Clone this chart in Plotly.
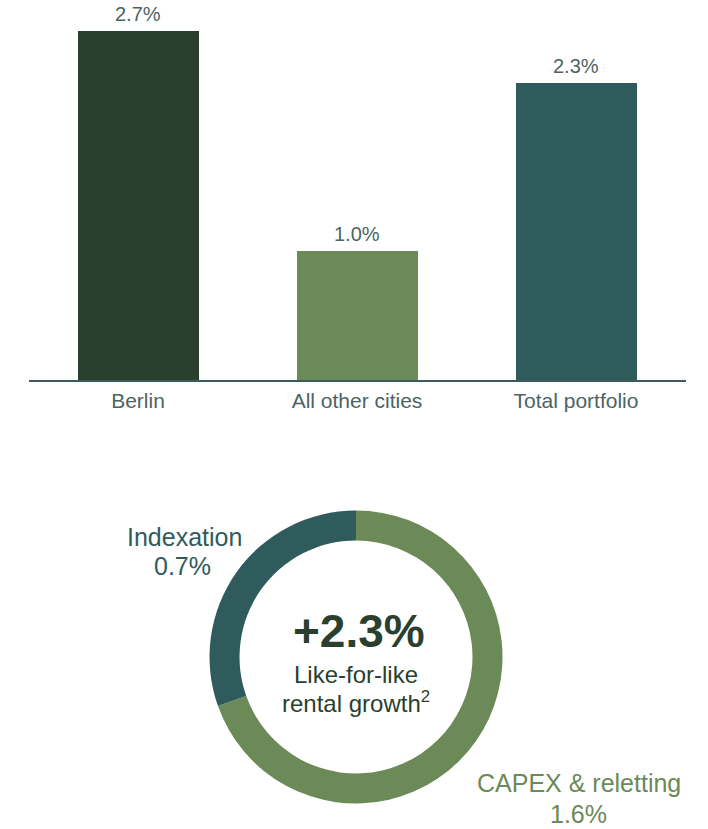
import plotly.graph_objects as go

# Bar chart: like-for-like rental growth by region
regions = ["Berlin", "All other cities", "Total portfolio"]
growth = [2.7, 1.0, 2.3]
bar_colors = ["#2a3f2e", "#6b8a57", "#2f5b5c"]

# Donut: split of total growth
parts = ["CAPEX & reletting", "Indexation"]
part_values = [1.6, 0.7]
part_colors = ["#6b8a57", "#2f5b5c"]
total_growth = 2.3

W, H = 708, 829
FONT = "Liberation Sans, Arial, sans-serif"
TEXT_GREY = "#4b6464"


def py(px):
    """Convert a pixel row (from top) into paper coordinates."""
    return 1 - px / H


def px_(x):
    return x / W


def paper_text(x, y, text, size, color):
    fig.add_annotation(
        x=px_(x), y=py(y), xref="paper", yref="paper",
        text=text, showarrow=False,
        font=dict(family=FONT, size=size, color=color),
        xanchor="center", yanchor="middle",
    )


fig = go.Figure()

fig.add_trace(go.Bar(
    x=regions,
    y=growth,
    marker=dict(color=bar_colors, line=dict(width=0)),
    width=0.548,
    xaxis="x",
    yaxis="y",
    hoverinfo="skip",
))

# value labels above bars
for r, v in zip(regions, growth):
    fig.add_annotation(
        x=r, y=v, xref="x", yref="y",
        text=f"{v:.1f}%", showarrow=False,
        xanchor="center", yanchor="bottom", yshift=4,
        font=dict(family=FONT, size=20, color=TEXT_GREY),
    )

# donut
cx, cy, R = 356, 657, 146.5
fig.add_trace(go.Pie(
    labels=parts,
    values=part_values,
    marker=dict(colors=part_colors, line=dict(width=0)),
    hole=0.795,
    sort=False,
    direction="clockwise",
    rotation=0,
    textinfo="none",
    hoverinfo="skip",
    showlegend=False,
    domain=dict(x=[px_(cx - R), px_(cx + R)], y=[py(cy + R), py(cy - R)]),
))

# centre text
paper_text(359, 631, f"<b>+{total_growth:.1f}%</b>", 46, "#2a3f2e")
paper_text(356, 674, "Like-for-like", 24, "#2a3f2e")
paper_text(356, 702, "rental growth<sup>2</sup>", 24, "#2a3f2e")

# slice labels
paper_text(184, 537, parts[1], 25, part_colors[1])
paper_text(183, 566, f"{part_values[1]:.1f}%", 25, part_colors[1])
paper_text(579, 783, parts[0], 25, part_colors[0])
paper_text(578, 814, f"{part_values[0]:.1f}%", 25, part_colors[0])

fig.update_layout(
    width=W, height=H, autosize=False,
    margin=dict(l=0, r=0, t=0, b=0),
    paper_bgcolor="white", plot_bgcolor="white",
    showlegend=False,
    font=dict(family=FONT),
    bargap=0,
    xaxis=dict(
        domain=[px_(28.5), px_(685.5)],
        range=[-0.5, 2.5],
        showline=True, linecolor="#3f5c5c", linewidth=2,
        showgrid=False, zeroline=False, ticks="",
        tickfont=dict(family=FONT, size=21, color=TEXT_GREY),
        ticklabelstandoff=1,
        anchor="y", fixedrange=True,
    ),
    yaxis=dict(
        domain=[py(380), py(5)],
        range=[0, 2.9],
        visible=False, showgrid=False, zeroline=False, fixedrange=True,
    ),
)

fig.write_html("out.html")
